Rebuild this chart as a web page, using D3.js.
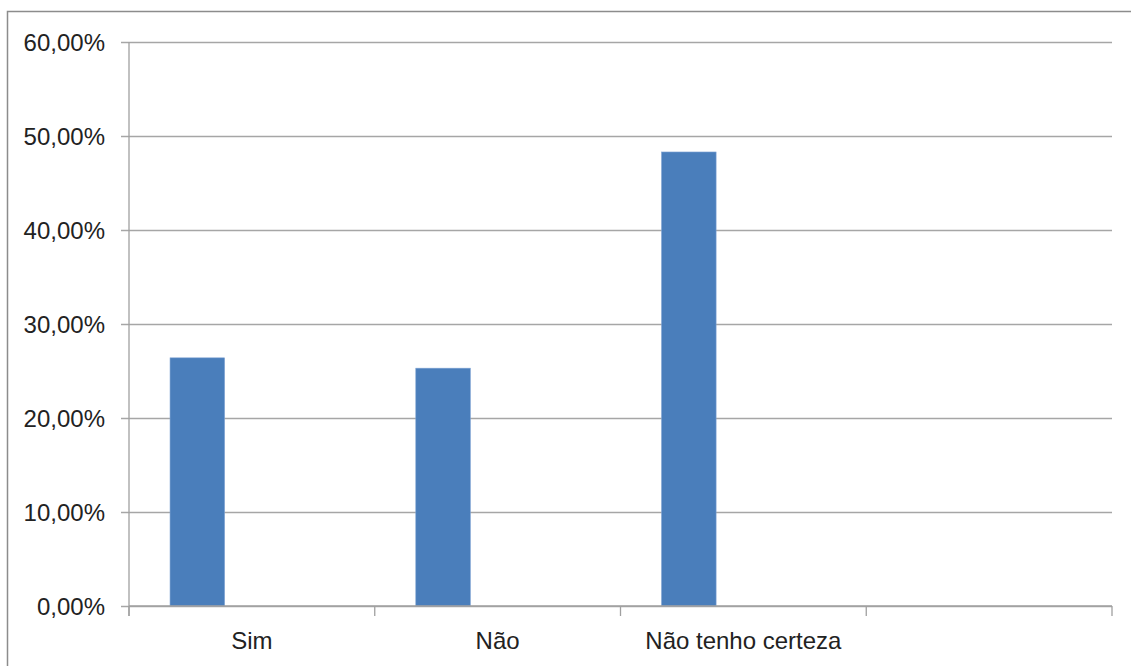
<!DOCTYPE html>
<html>
<head>
<meta charset="utf-8">
<script src="https://cdn.jsdelivr.net/npm/d3@7"></script>
<style>
  body { margin: 0; background: #fff; }
  svg text { font-family: "Liberation Sans", Arial, sans-serif; fill: #222; }
</style>
</head>
<body>
<svg id="chart" width="1131" height="666"></svg>
<script>
// categories (the 4th slot is empty in the original sheet)
const categories = ['Sim', 'Não', 'Não tenho certeza', ''];
const values = [26.4, 25.3, 48.3, null];
const yTicks = [0, 10, 20, 30, 40, 50, 60];

const svg = d3.select('#chart');
const margin = { left: 129, right: 19, top: 42, bottom: 60 };
const width = +svg.attr('width');
const height = +svg.attr('height');

// outer frame, runs off the right/bottom edge like the screenshot
svg.append('rect')
  .attr('x', 7.5).attr('y', 11.5)
  .attr('width', width).attr('height', height)
  .attr('fill', 'none')
  .attr('stroke', '#8c8c8c')
  .attr('stroke-width', 1.5);

const x = d3.scaleBand()
  .domain(categories.map((d, i) => i))
  .range([margin.left, width - margin.right])
  .paddingInner(0).paddingOuter(0);

const y = d3.scaleLinear()
  .domain([0, 60])
  .range([height - margin.bottom, margin.top]);

const fmt = (d) => d.toFixed(2).replace('.', ',') + '%';

// gridlines + y labels
const yAxis = svg.append('g')
  .attr('transform', `translate(${margin.left},0)`)
  .call(d3.axisLeft(y).tickValues(yTicks).tickFormat(fmt)
    .tickSize(-(width - margin.right - margin.left)).tickPadding(0));
yAxis.select('.domain').remove();
yAxis.selectAll('.tick line')
  .attr('stroke', '#a6a6a6').attr('stroke-width', 1.3)
  .attr('x1', -8);
yAxis.selectAll('.tick text')
  .attr('x', -24)
  .attr('dy', '0.35em')
  .style('font-size', '24px');

// bars
const bw = x.bandwidth();
svg.append('g')
  .selectAll('rect')
  .data(values.map((v, i) => ({ i, v })).filter((d) => d.v != null))
  .join('rect')
  .attr('x', (d) => x(d.i) + bw * 0.167)
  .attr('width', bw * 0.222)
  .attr('y', (d) => y(d.v))
  .attr('height', (d) => y(0) - y(d.v))
  .attr('fill', '#4a7ebb')
  .attr('stroke', '#7fa3d3')
  .attr('stroke-width', 0.6);

// y axis line
svg.append('line')
  .attr('x1', margin.left).attr('x2', margin.left)
  .attr('y1', margin.top).attr('y2', y(0) + 10)
  .attr('stroke', '#a0a0a0').attr('stroke-width', 1.3);

// x axis with boundary ticks
const xg = svg.append('g');
xg.append('line')
  .attr('x1', margin.left).attr('x2', width - margin.right)
  .attr('y1', y(0)).attr('y2', y(0))
  .attr('stroke', '#a0a0a0').attr('stroke-width', 1.3);
const bounds = categories.map((d, i) => x(i)).concat([width - margin.right]);
xg.selectAll('.bt')
  .data(bounds)
  .join('line')
  .attr('class', 'bt')
  .attr('x1', (d) => d).attr('x2', (d) => d)
  .attr('y1', y(0)).attr('y2', y(0) + 10)
  .attr('stroke', '#a0a0a0').attr('stroke-width', 1.3);

xg.selectAll('.cat')
  .data(categories)
  .join('text')
  .attr('class', 'cat')
  .attr('x', (d, i) => x(i) + bw / 2)
  .attr('y', y(0) + 43)
  .attr('text-anchor', 'middle')
  .style('font-size', '24px')
  .text((d) => d);
</script>
</body>
</html>
